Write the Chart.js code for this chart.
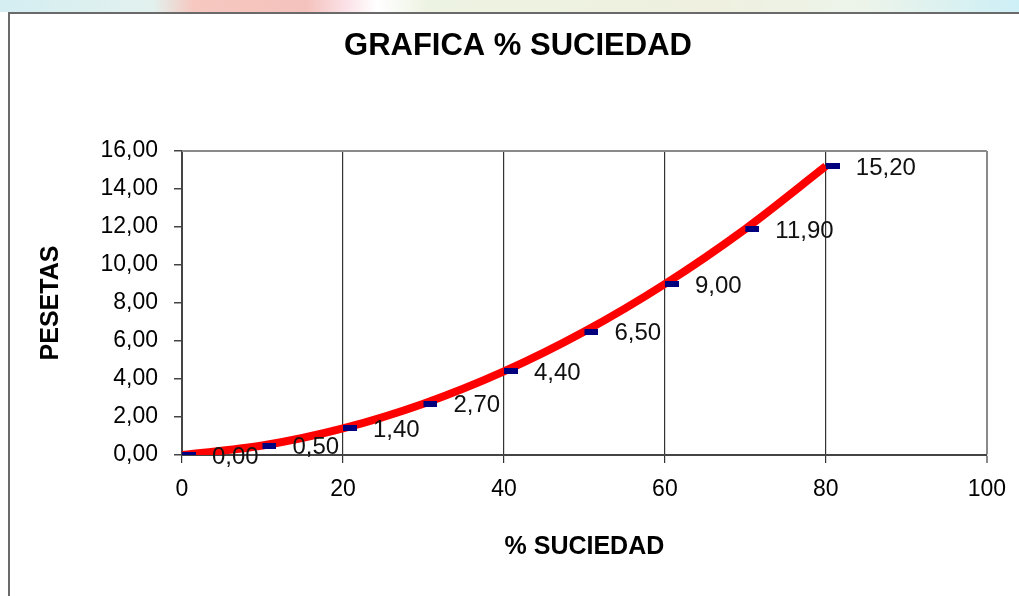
<!DOCTYPE html>
<html>
<head>
<meta charset="utf-8">
<script src="https://cdn.jsdelivr.net/npm/chart.js@4.4.0/dist/chart.umd.min.js"></script>
<style>
  html, body { margin: 0; padding: 0; width: 1019px; height: 596px; overflow: hidden; background: #fff; }
  #strip { position: absolute; left: 0; top: 0; width: 1019px; height: 12px;
    background: linear-gradient(to right, #d4eef2 0%, #e2f1ee 15%, #f6c8c0 19%, #f4c2bc 30%, #fbe2e8 34%, #ffffff 37%, #edf3e2 42%, #eff0df 70%, #ecf4ea 85%, #cdeff6 100%); }
  #frame { position: absolute; left: 8px; top: 12px; width: 1011px; height: 584px;
    border-left: 2px solid #6a6a6a; border-top: 2px solid #6a6a6a; box-sizing: border-box; background: #fff; }
  #wrap { position: absolute; left: 0; top: 0; width: 1009px; height: 582px; }
</style>
</head>
<body>
<div id="strip"></div>
<div id="frame"><div id="wrap"><canvas id="c"></canvas></div></div>
<script>
const suciedad = [0, 10, 20, 30, 40, 50, 60, 70, 80];
const pesetas = [0.00, 0.50, 1.40, 2.70, 4.40, 6.50, 9.00, 11.90, 15.20];
const xTicks = [0, 20, 40, 60, 80, 100];
const yTicks = [0, 2, 4, 6, 8, 10, 12, 14, 16];
const chartTitle = 'GRAFICA % SUCIEDAD';
const xTitle = '% SUCIEDAD';
const yTitle = 'PESETAS';

const fam = '"Liberation Sans", Arial, sans-serif';
const fmt = v => v.toFixed(2).replace('.', ',');

// dash marker: drawn from the point to the right
const mk = document.createElement('canvas');
mk.width = 28; mk.height = 6;
const mctx = mk.getContext('2d');
mctx.fillStyle = '#00007f';
mctx.fillRect(14, 0, 14, 6);

const extras = {
  id: 'extras',
  afterDraw(chart) {
    const {ctx, chartArea} = chart;
    ctx.save();
    // title
    ctx.fillStyle = '#000';
    ctx.font = 'bold 31px ' + fam;
    ctx.textAlign = 'center';
    ctx.textBaseline = 'middle';
    ctx.fillText(chartTitle, 508, 32);
    ctx.restore();
  },
  afterDatasetsDraw(chart) {
    const {ctx, chartArea} = chart;
    ctx.save();
    // plot box top border
    ctx.strokeStyle = '#8a8a8a';
    ctx.lineWidth = 2;
    ctx.beginPath();
    ctx.moveTo(chartArea.left, chartArea.top);
    ctx.lineTo(chartArea.right, chartArea.top);
    ctx.stroke();
    // data labels
    const meta = chart.getDatasetMeta(0);
    ctx.fillStyle = '#111';
    ctx.font = '24px ' + fam;
    ctx.textBaseline = 'middle';
    ctx.textAlign = 'left';
    meta.data.forEach((pt, i) => {
      ctx.fillText(fmt(pesetas[i]), pt.x + 30, pt.y + 2);
    });
    ctx.restore();
  }
};

new Chart(document.getElementById('c'), {
  type: 'line',
  data: {
    datasets: [{
      data: suciedad.map((x, i) => ({x, y: pesetas[i]})),
      borderColor: '#ff0000',
      borderWidth: 8,
      tension: 0.4,
      cubicInterpolationMode: 'monotone',
      pointStyle: mk,
      pointRadius: 7,
      pointHoverRadius: 7,
      fill: false
    }]
  },
  options: {
    responsive: true,
    maintainAspectRatio: false,
    animation: false,
    layout: { padding: { left: 0, right: 31, top: 137, bottom: 0 } },
    plugins: {
      legend: { display: false },
      tooltip: { enabled: false },
      title: { display: false }
    },
    scales: {
      x: {
        type: 'linear',
        min: 0, max: 100,
        afterBuildTicks: s => { s.ticks = xTicks.map(v => ({value: v})); },
        afterFit: s => { s.height = 141; },
        ticks: { color: '#000', font: { family: fam, size: 23 }, padding: 13, maxRotation: 0 },
        grid: {
          color: ctx => (ctx.tick && ctx.tick.value === 100) ? '#8a8a8a' : '#333',
          lineWidth: ctx => (ctx.tick && ctx.tick.value === 100) ? 2 : 1.2,
          tickLength: 8,
          drawTicks: true
        },
        border: { display: true, color: '#444', width: 2 },
        title: {
          display: true,
          text: xTitle,
          color: '#000',
          font: { family: fam, size: 25, weight: 'bold', lineHeight: 1.2 },
          padding: { top: 0, bottom: 34 }
        }
      },
      y: {
        type: 'linear',
        min: 0, max: 16,
        afterBuildTicks: s => { s.ticks = yTicks.map(v => ({value: v})); },
        afterFit: s => { s.width = 172; },
        ticks: { color: '#000', font: { family: fam, size: 23 }, padding: 16, callback: v => fmt(v) },
        grid: { drawOnChartArea: false, color: '#444', lineWidth: 1.5, tickLength: 8 },
        border: { display: true, color: '#444', width: 2 },
        title: {
          display: true,
          text: yTitle,
          color: '#000',
          font: { family: fam, size: 25, weight: 'bold', lineHeight: 1.2 },
          padding: { top: 26, bottom: 0 }
        }
      }
    }
  },
  plugins: [extras]
});
</script>
</body>
</html>
